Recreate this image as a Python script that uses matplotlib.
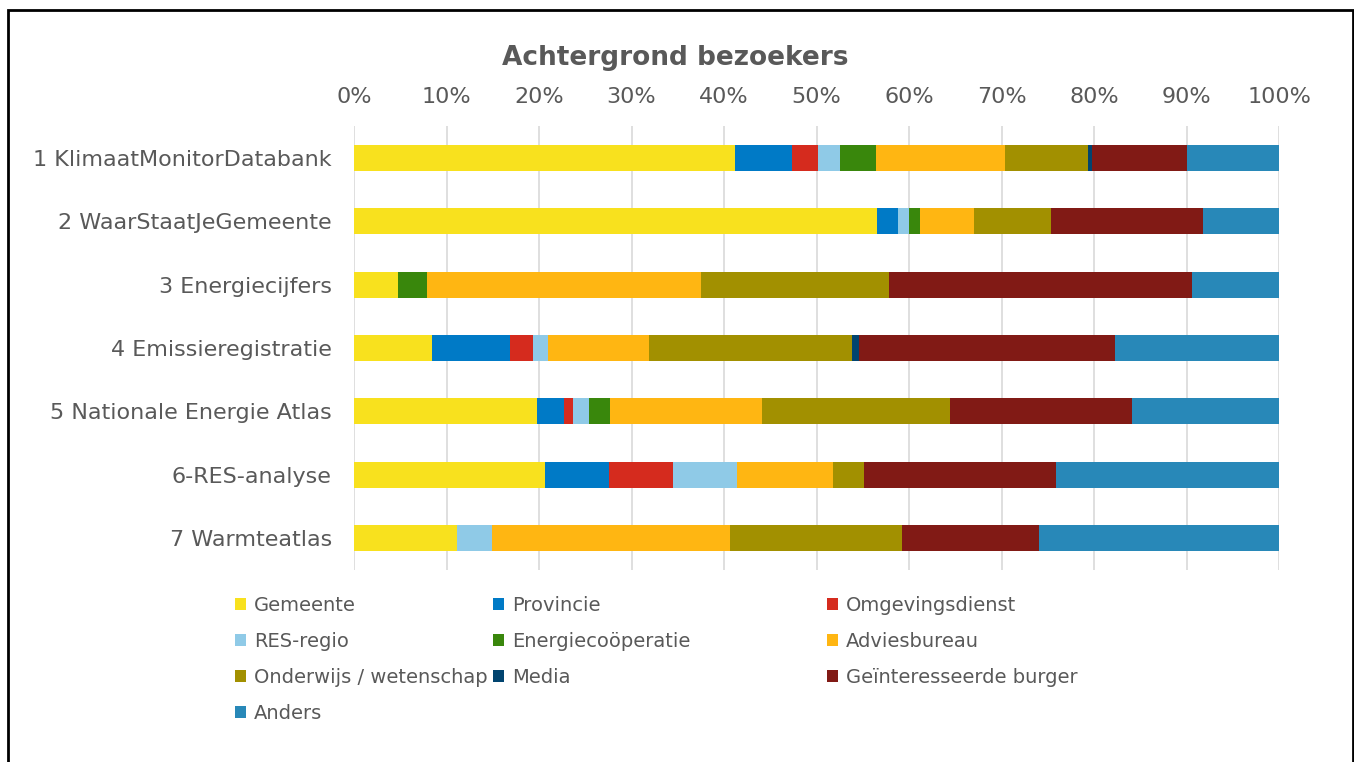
import numpy as np
import matplotlib as mpl
mpl.rcParams['font.size'] = 16
mpl.rcParams['font.family'] = ['DejaVu Sans']
import matplotlib.pyplot as plt
from matplotlib.patches import Rectangle, Patch

TEXT_COLOR = '#595959'

categories = [
    "1 KlimaatMonitorDatabank",
    "2 WaarStaatJeGemeente",
    "3 Energiecijfers",
    "4 Emissieregistratie",
    "5 Nationale Energie Atlas",
    "6-RES-analyse",
    "7 Warmteatlas",
]

groups = [
    "Gemeente", "Provincie", "Omgevingsdienst", "RES-regio",
    "Energiecoöperatie", "Adviesbureau", "Onderwijs / wetenschap",
    "Media", "Geïnteresseerde burger", "Anders",
]

colors = [
    '#F8E11E', '#007AC6', '#D52B1E', '#8FCAE7', '#39870C',
    '#FFB612', '#A29000', '#01446F', '#811A15', '#2888B8',
]

# percentages per group, one value per category
gemeente     = [41.2, 56.5, 4.75, 8.4, 19.8, 20.7, 11.1]
provincie    = [6.1, 2.3, 0.0, 8.45, 2.85, 6.9, 0.0]
omgeving     = [2.9, 0.0, 0.0, 2.45, 1.05, 6.9, 0.0]
res_regio    = [2.3, 1.2, 0.0, 1.7, 1.7, 6.9, 3.8]
energiecoop  = [3.9, 1.2, 3.1, 0.0, 2.3, 0.0, 0.0]
advies       = [14.0, 5.85, 29.65, 10.9, 16.4, 10.35, 25.8]
onderwijs    = [8.9, 8.25, 20.3, 21.9, 20.3, 3.35, 18.5]
media        = [0.5, 0.0, 0.0, 0.8, 0.0, 0.0, 0.0]
burger       = [10.3, 16.5, 32.8, 27.7, 19.75, 20.8, 14.8]
anders       = [9.9, 8.2, 9.4, 17.7, 15.85, 24.1, 26.0]

series = [gemeente, provincie, omgeving, res_regio, energiecoop,
          advies, onderwijs, media, burger, anders]

fig = plt.figure(figsize=(13.54, 7.62), dpi=100)
ax = fig.add_axes([354 / 1354, 1 - 570 / 762, 925 / 1354, 444 / 762])

y = np.arange(len(categories))
left = np.zeros(len(categories))
for vals, col in zip(series, colors):
    vals = np.array(vals)
    ax.barh(y, vals, left=left, height=0.41, color=col, zorder=3)
    left += vals

ax.set_xlim(0, 100)
ax.set_ylim(len(categories) - 0.5, -0.5)
ax.set_xticks(np.arange(0, 101, 10))
ax.set_xticklabels([f"{v}%" for v in range(0, 101, 10)])
ax.set_yticks(y)
ax.set_yticklabels(categories)
ax.xaxis.tick_top()
ax.tick_params(axis='both', length=0, colors=TEXT_COLOR, labelsize=16)
ax.tick_params(axis='x', pad=14)
ax.tick_params(axis='y', pad=16)
ax.grid(axis='x', color='#D9D9D9', linewidth=1.2, zorder=0)
for s in ax.spines.values():
    s.set_visible(False)

fig.text(675 / 1354, 1 - 58 / 762, "Achtergrond bezoekers", ha='center', va='center',
         fontsize=19, fontweight='bold', color=TEXT_COLOR)

# legend laid out row by row like the original, one legend per column
handles = [Patch(facecolor=c, edgecolor='none') for c in colors]
col_x = [235, 493, 827]
for c in range(3):
    idx = list(range(c, len(groups), 3))
    leg = fig.legend([handles[i] for i in idx], [groups[i] for i in idx],
                     loc='upper left', bbox_to_anchor=(col_x[c] / 1354, 1 - 596 / 762),
                     frameon=False, fontsize=14, handlelength=0.57, handleheight=0.57,
                     handletextpad=0.4, labelspacing=0.87, borderpad=0, borderaxespad=0)
    for t in leg.get_texts():
        t.set_color(TEXT_COLOR)

# black frame around the chart
fig.patches.append(Rectangle((8 / 1354, -0.02), 1345 / 1354, 1.02 - 10 / 762,
                             transform=fig.transFigure, fill=False,
                             edgecolor='black', linewidth=2))

plt.savefig('out.png', dpi=100, facecolor='white')
